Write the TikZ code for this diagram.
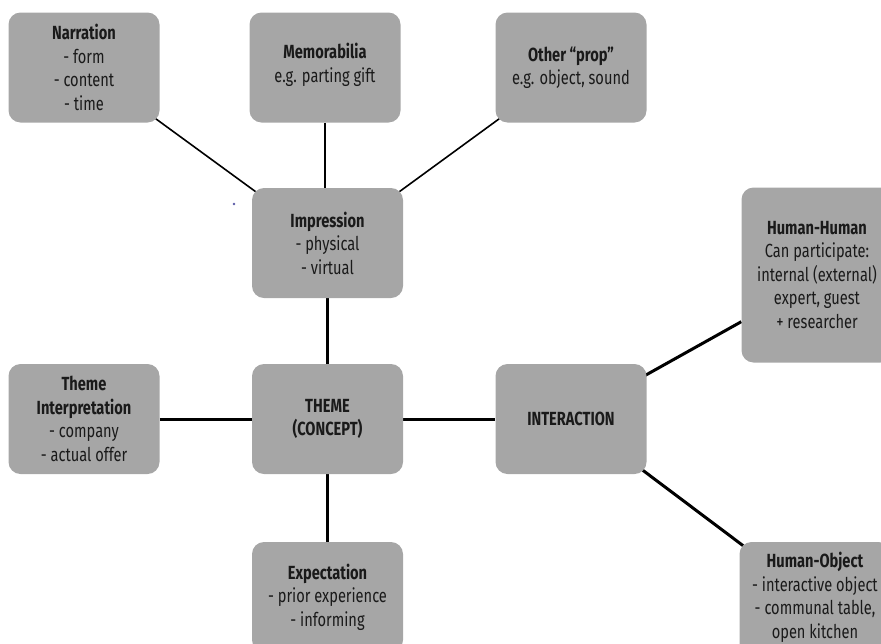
\documentclass[tikz,border=0pt]{standalone}
\usepackage{fontspec}
\setmainfont[FakeStretch=0.77]{Fira Sans}
\usetikzlibrary{backgrounds,calc}
\definecolor{boxgrey}{HTML}{A6A6A6}
\definecolor{txt}{HTML}{1A1A1A}
\tikzset{
  card/.style={draw=none, fill=boxgrey, rounded corners=12pt, minimum width=151pt,
    minimum height=110pt, inner sep=0pt, align=center, text=txt,
    font=\fontsize{19}{23.5}\selectfont},
  thin link/.style={line width=1.6pt, black},
  thick link/.style={line width=3pt, black}
}
\begin{document}
\begin{tikzpicture}[x=1pt,y=-1pt]
\useasboundingbox (0,0) rectangle (881,643);
\clip (0,0) rectangle (881,643);
\node[card] (narr) at (84,67.5) {\textbf{Narration}\\- form\\- content\\- time};
\node[card] (memo) at (325,67.5) {\textbf{Memorabilia}\\e.g. parting gift\\[-14pt]\mbox{}};
\node[card] (prop) at (571,67.5) {\textbf{Other “prop”}\\e.g. object, sound};
\node[card] (impr) at (327.5,243) {\textbf{Impression}\\- physical\\- virtual};
\node[card] (ti) at (84,419) {\textbf{Theme}\\\textbf{Interpretation}\\- company\\- actual offer};
\node[card] (theme) at (327.5,419) {\textbf{THEME}\\\textbf{(CONCEPT)}};
\node[card] (inter) at (571,419) {\textbf{INTERACTION}};
\node[card] (exp) at (327.5,597) {\textbf{Expectation}\\- prior experience\\- informing};
\node[card, minimum height=175pt] (hh) at (817,275) {\textbf{Human-Human}\\Can participate:\\internal (external)\\expert, guest\\+ researcher};
\node[card, minimum height=120pt] (ho) at (815,602) {\textbf{Human-Object}\\- interactive object\\- communal table,\\open kitchen\\[-10pt]\mbox{}};
\fill[gray!70!blue] (234,204) circle (1.3);
\begin{scope}[on background layer]
  \draw[thin link] ($(narr.south east)+(-4,-4)$) -- ($(impr.north west)+(4,4)$);
  \draw[thin link] (memo.south) -- (memo.south |- impr.north);
  \draw[thin link] ($(prop.south west)+(4,-4)$) -- ($(impr.north east)+(-4,4)$);
  \draw[thick link] (impr.south) -- (theme.north);
  \draw[thick link] (ti.east) -- (theme.west);
  \draw[thick link] (theme.east) -- (inter.west);
  \draw[thick link] (theme.south) -- (exp.north);
  \draw[thick link] ($(inter.north east)+(-4,13)$) -- ($(hh.south west)+(0,-41)$);
  \draw[thick link] ($(inter.south east)+(-4,-4)$) -- ($(ho.north west)+(4,4)$);
\end{scope}
\end{tikzpicture}
\end{document}
